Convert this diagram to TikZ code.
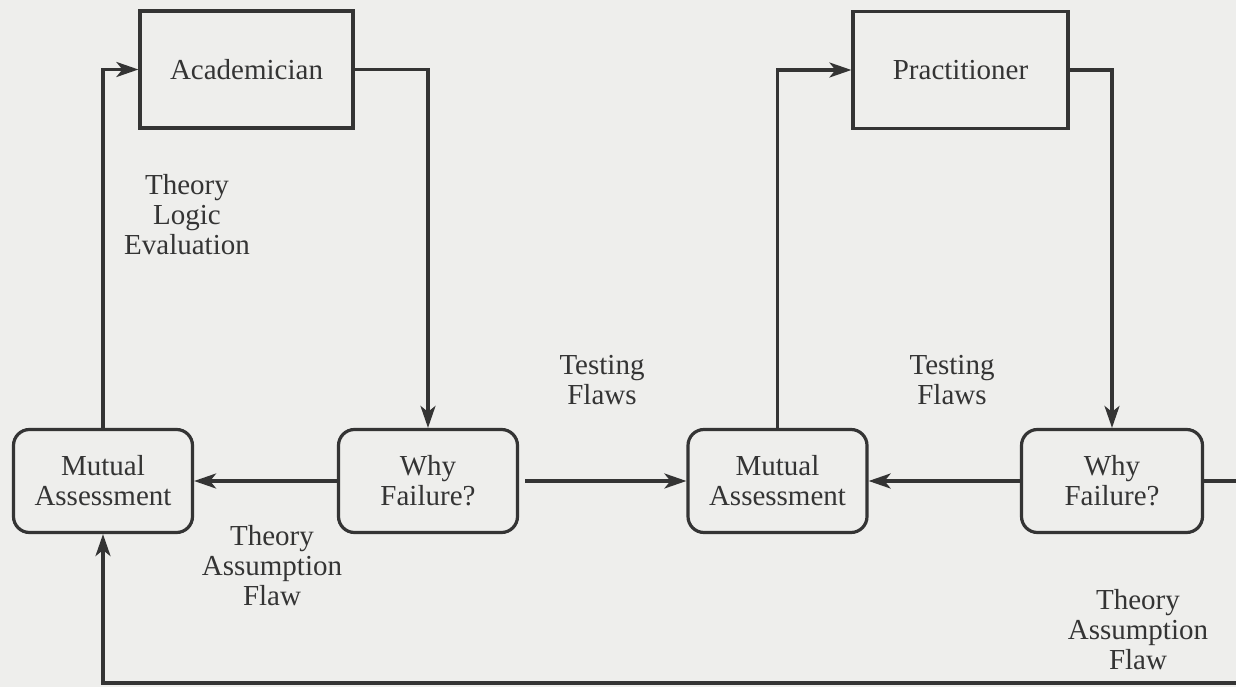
\documentclass[tikz,border=0pt]{standalone}
\usepackage{fontspec}
\setmainfont{Liberation Serif}
\usetikzlibrary{arrows.meta}
\definecolor{bgc}{RGB}{238,238,236}
\definecolor{ink}{RGB}{52,52,52}
\tikzset{
  x=1pt, y=-1pt,
  every node/.style={text=ink, font=\fontsize{29}{30}\selectfont},
  sqbox/.style={draw=ink, line width=3.2pt, rectangle, inner sep=0pt, minimum width=213pt, minimum height=117pt},
  rbox/.style={draw=ink, line width=3.2pt, rectangle, rounded corners=16pt, inner sep=0pt, align=center, minimum width=179pt, minimum height=103pt},
  lbl/.style={align=center, inner sep=0pt},
  conn/.style={draw=ink, line width=3.2pt},
  arr/.style={conn, -{Stealth[length=22pt,width=15pt,inset=6pt]}}
}
\begin{document}
\begin{tikzpicture}
\useasboundingbox[fill=bgc] (0,0) rectangle (1236,687);
\node[sqbox] (acad) at (246.5,69.5) {Academician};
\node[sqbox, minimum width=215pt] (prac) at (960.5,70) {Practitioner};
\node[rbox] (ma1) at (103,481) {Mutual\\Assessment};
\node[rbox] (wf1) at (428,481) {Why\\Failure?};
\node[rbox] (ma2) at (777.5,481) {Mutual\\Assessment};
\node[rbox, minimum width=181pt] (wf2) at (1112,481) {Why\\Failure?};
\node[lbl] (l1) at (187,215) {Theory\\Logic\\Evaluation};
\node[lbl] (l2) at (602,380) {Testing\\Flaws};
\node[lbl] (l3) at (952,380) {Testing\\Flaws};
\node[lbl] (l4) at (272,566) {Theory\\Assumption\\Flaw};
\node[lbl] (l5) at (1138,630) {Theory\\Assumption\\Flaw};
\coordinate (redge) at (1240,481);
\coordinate (bedge) at (1240,683);
\coordinate (wf1out) at (525,481);
\draw[arr] (ma1.north) |- (acad.west);
\draw[arr] (acad.east) -| (wf1.north);
\draw[arr] (wf1.west) -- (ma1.east);
\draw[arr] (wf1out) -- (ma2.west);
\draw[arr] (ma2.north) |- (prac.west);
\draw[arr] (prac.east) -| (wf2.north);
\draw[arr] (wf2.west) -- (ma2.east);
\draw[conn] (wf2.east) -- (redge);
\draw[arr] (bedge) -| (ma1.south);
\end{tikzpicture}
\end{document}
